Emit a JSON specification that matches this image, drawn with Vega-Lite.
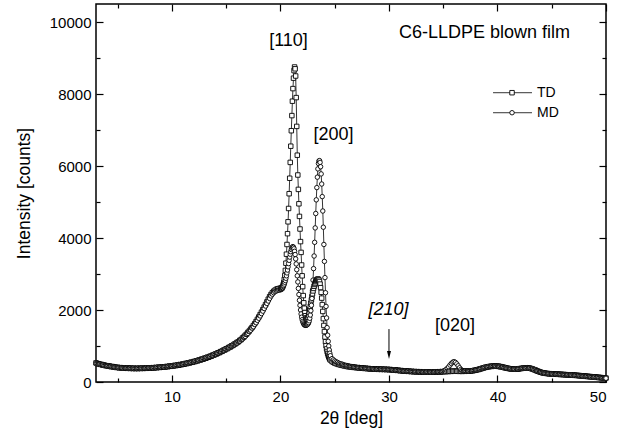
{
  "$schema": "https://vega.github.io/schema/vega-lite/v6.json",
  "width": 510,
  "height": 378,
  "autosize": "none",
  "padding": {"left": 96, "top": 4, "right": 17, "bottom": 62},
  "background": "white",
  "config": {
    "font": "Liberation Sans",
    "view": {"stroke": "black", "strokeWidth": 1.5},
    "axis": {"domain": false, "grid": false, "tickColor": "black", "tickWidth": 1.2, "labelColor": "black", "titleColor": "black", "labelFont": "Liberation Sans", "titleFont": "Liberation Sans", "labelFontSize": 15, "titleFontSize": 17.5, "titleFontWeight": "normal"}
  },
  "data": {"values": [
    {"t":3.0,"TD":530,"MD":515},{"t":3.125,"TD":512,"MD":522},{"t":3.25,"TD":505,"MD":494},{"t":3.375,"TD":490,"MD":500},
    {"t":3.5,"TD":488,"MD":474},{"t":3.625,"TD":472,"MD":481},{"t":3.75,"TD":470,"MD":458},{"t":3.875,"TD":455,"MD":465},
    {"t":4.0,"TD":452,"MD":444},{"t":4.125,"TD":446,"MD":452},{"t":4.25,"TD":440,"MD":430},{"t":4.375,"TD":428,"MD":437},
    {"t":4.5,"TD":430,"MD":418},{"t":4.625,"TD":416,"MD":424},{"t":4.75,"TD":414,"MD":412},{"t":4.875,"TD":404,"MD":414},
    {"t":5.0,"TD":406,"MD":398},{"t":5.125,"TD":396,"MD":404},{"t":5.25,"TD":400,"MD":390},{"t":5.375,"TD":390,"MD":396},
    {"t":5.5,"TD":392,"MD":384},{"t":5.625,"TD":384,"MD":391},{"t":5.75,"TD":389,"MD":380},{"t":5.875,"TD":380,"MD":388},
    {"t":6.0,"TD":386,"MD":378},{"t":6.125,"TD":378,"MD":385},{"t":6.25,"TD":383,"MD":374},{"t":6.375,"TD":375,"MD":382},
    {"t":6.5,"TD":382,"MD":372},{"t":6.625,"TD":374,"MD":380},{"t":6.75,"TD":380,"MD":373},{"t":6.875,"TD":373,"MD":382},
    {"t":7.0,"TD":382,"MD":374},{"t":7.125,"TD":376,"MD":384},{"t":7.25,"TD":385,"MD":376},{"t":7.375,"TD":377,"MD":387},
    {"t":7.5,"TD":386,"MD":379},{"t":7.625,"TD":380,"MD":390},{"t":7.75,"TD":391,"MD":383},{"t":7.875,"TD":384,"MD":394},
    {"t":8.0,"TD":393,"MD":386},{"t":8.125,"TD":388,"MD":398},{"t":8.25,"TD":398,"MD":391},{"t":8.375,"TD":393,"MD":404},
    {"t":8.5,"TD":404,"MD":396},{"t":8.625,"TD":398,"MD":410},{"t":8.75,"TD":409,"MD":402},{"t":8.875,"TD":404,"MD":416},
    {"t":9.0,"TD":415,"MD":408},{"t":9.125,"TD":410,"MD":423},{"t":9.25,"TD":422,"MD":415},{"t":9.375,"TD":418,"MD":431},
    {"t":9.5,"TD":430,"MD":424},{"t":9.625,"TD":426,"MD":440},{"t":9.75,"TD":439,"MD":432},{"t":9.875,"TD":435,"MD":450},
    {"t":10.0,"TD":449,"MD":441},{"t":10.125,"TD":445,"MD":461},{"t":10.25,"TD":460,"MD":452},{"t":10.375,"TD":456,"MD":472},
    {"t":10.5,"TD":471,"MD":463},{"t":10.625,"TD":468,"MD":485},{"t":10.75,"TD":484,"MD":476},{"t":10.875,"TD":481,"MD":499},
    {"t":11.0,"TD":498,"MD":490},{"t":11.125,"TD":496,"MD":514},{"t":11.25,"TD":514,"MD":505},{"t":11.375,"TD":512,"MD":531},
    {"t":11.5,"TD":530,"MD":521},{"t":11.625,"TD":529,"MD":548},{"t":11.75,"TD":548,"MD":539},{"t":11.875,"TD":547,"MD":567},
    {"t":12.0,"TD":567,"MD":558},{"t":12.125,"TD":567,"MD":588},{"t":12.25,"TD":588,"MD":578},{"t":12.375,"TD":588,"MD":610},
    {"t":12.5,"TD":610,"MD":600},{"t":12.625,"TD":611,"MD":633},{"t":12.75,"TD":634,"MD":622},{"t":12.875,"TD":634,"MD":658},
    {"t":13.0,"TD":658,"MD":646},{"t":13.125,"TD":660,"MD":684},{"t":13.25,"TD":685,"MD":672},{"t":13.375,"TD":687,"MD":712},
    {"t":13.5,"TD":712,"MD":700},{"t":13.625,"TD":716,"MD":742},{"t":13.75,"TD":743,"MD":730},{"t":13.875,"TD":748,"MD":774},
    {"t":14.0,"TD":775,"MD":762},{"t":14.125,"TD":781,"MD":807},{"t":14.25,"TD":810,"MD":796},{"t":14.375,"TD":816,"MD":842},
    {"t":14.5,"TD":845,"MD":831},{"t":14.625,"TD":852,"MD":878},{"t":14.75,"TD":882,"MD":867},{"t":14.875,"TD":890,"MD":916},
    {"t":15.0,"TD":921,"MD":906},{"t":15.125,"TD":930,"MD":956},{"t":15.25,"TD":962,"MD":946},{"t":15.375,"TD":972,"MD":998},
    {"t":15.5,"TD":1005,"MD":990},{"t":15.625,"TD":1016,"MD":1040},{"t":15.75,"TD":1052,"MD":1034},{"t":15.875,"TD":1066,"MD":1086},
    {"t":16.0,"TD":1100,"MD":1080},{"t":16.125,"TD":1118,"MD":1132},{"t":16.25,"TD":1156,"MD":1136},{"t":16.375,"TD":1178,"MD":1190},
    {"t":16.5,"TD":1222,"MD":1198},{"t":16.625,"TD":1248,"MD":1256},{"t":16.75,"TD":1296,"MD":1268},{"t":16.875,"TD":1328,"MD":1330},
    {"t":17.0,"TD":1378,"MD":1350},{"t":17.125,"TD":1416,"MD":1412},{"t":17.25,"TD":1468,"MD":1438},{"t":17.375,"TD":1512,"MD":1500},
    {"t":17.5,"TD":1566,"MD":1534},{"t":17.625,"TD":1620,"MD":1598},{"t":17.75,"TD":1680,"MD":1646},{"t":17.875,"TD":1742,"MD":1712},
    {"t":18.0,"TD":1806,"MD":1770},{"t":18.125,"TD":1872,"MD":1836},{"t":18.25,"TD":1940,"MD":1900},{"t":18.375,"TD":2010,"MD":1968},
    {"t":18.5,"TD":2080,"MD":2040},{"t":18.625,"TD":2150,"MD":2110},{"t":18.75,"TD":2225,"MD":2180},{"t":18.875,"TD":2300,"MD":2250},
    {"t":19.0,"TD":2370,"MD":2320},{"t":19.125,"TD":2430,"MD":2390},{"t":19.25,"TD":2480,"MD":2440},{"t":19.375,"TD":2520,"MD":2480},
    {"t":19.5,"TD":2550,"MD":2510},{"t":19.625,"TD":2575,"MD":2530},{"t":19.75,"TD":2590,"MD":2545},{"t":19.875,"TD":2598,"MD":2555},
    {"t":20.0,"TD":2600,"MD":2560},{"t":20.05,"TD":2610,"MD":2570},{"t":20.1,"TD":2600,"MD":2580},{"t":20.15,"TD":2620,"MD":2600},
    {"t":20.2,"TD":2650,"MD":2620},{"t":20.25,"TD":2700,"MD":2650},{"t":20.3,"TD":2760,"MD":2680},{"t":20.35,"TD":2850,"MD":2720},
    {"t":20.4,"TD":2960,"MD":2770},{"t":20.45,"TD":3100,"MD":2820},{"t":20.5,"TD":3300,"MD":2880},{"t":20.55,"TD":3550,"MD":2950},
    {"t":20.6,"TD":3820,"MD":3030},{"t":20.65,"TD":4120,"MD":3110},{"t":20.7,"TD":4450,"MD":3200},{"t":20.75,"TD":4820,"MD":3290},
    {"t":20.8,"TD":5230,"MD":3380},{"t":20.85,"TD":5660,"MD":3470},{"t":20.9,"TD":6100,"MD":3550},{"t":20.95,"TD":6550,"MD":3620},
    {"t":21.0,"TD":6980,"MD":3680},{"t":21.05,"TD":7400,"MD":3720},{"t":21.1,"TD":7800,"MD":3750},{"t":21.15,"TD":8150,"MD":3760},
    {"t":21.2,"TD":8440,"MD":3740},{"t":21.25,"TD":8650,"MD":3700},{"t":21.3,"TD":8750,"MD":3630},{"t":21.35,"TD":8700,"MD":3540},
    {"t":21.4,"TD":8500,"MD":3420},{"t":21.45,"TD":7900,"MD":3280},{"t":21.5,"TD":7100,"MD":3120},{"t":21.55,"TD":6300,"MD":2950},
    {"t":21.6,"TD":5750,"MD":2780},{"t":21.65,"TD":5350,"MD":2600},{"t":21.7,"TD":4950,"MD":2430},{"t":21.75,"TD":4600,"MD":2270},
    {"t":21.8,"TD":4250,"MD":2130},{"t":21.85,"TD":3900,"MD":2000},{"t":21.9,"TD":3600,"MD":1890},{"t":21.95,"TD":3250,"MD":1800},
    {"t":22.0,"TD":2950,"MD":1730},{"t":22.05,"TD":2650,"MD":1680},{"t":22.1,"TD":2400,"MD":1640},{"t":22.15,"TD":2200,"MD":1610},
    {"t":22.2,"TD":2050,"MD":1590},{"t":22.25,"TD":1930,"MD":1580},{"t":22.3,"TD":1840,"MD":1575},{"t":22.35,"TD":1780,"MD":1575},
    {"t":22.4,"TD":1750,"MD":1580},{"t":22.45,"TD":1740,"MD":1590},{"t":22.5,"TD":1760,"MD":1600},{"t":22.55,"TD":1800,"MD":1620},
    {"t":22.6,"TD":1860,"MD":1650},{"t":22.65,"TD":1930,"MD":1700},{"t":22.7,"TD":2010,"MD":1770},{"t":22.75,"TD":2100,"MD":1860},
    {"t":22.8,"TD":2190,"MD":1980},{"t":22.85,"TD":2280,"MD":2130},{"t":22.9,"TD":2370,"MD":2320},{"t":22.95,"TD":2450,"MD":2550},
    {"t":23.0,"TD":2530,"MD":2830},{"t":23.05,"TD":2600,"MD":3150},{"t":23.1,"TD":2660,"MD":3500},{"t":23.15,"TD":2710,"MD":3880},
    {"t":23.2,"TD":2750,"MD":4280},{"t":23.25,"TD":2790,"MD":4680},{"t":23.3,"TD":2820,"MD":5060},{"t":23.35,"TD":2840,"MD":5400},
    {"t":23.4,"TD":2850,"MD":5690},{"t":23.45,"TD":2860,"MD":5920},{"t":23.5,"TD":2850,"MD":6070},{"t":23.55,"TD":2830,"MD":6140},
    {"t":23.6,"TD":2790,"MD":6150},{"t":23.65,"TD":2720,"MD":6100},{"t":23.7,"TD":2620,"MD":5980},{"t":23.75,"TD":2490,"MD":5780},
    {"t":23.8,"TD":2330,"MD":5500},{"t":23.85,"TD":2150,"MD":5150},{"t":23.9,"TD":1960,"MD":4750},{"t":23.95,"TD":1760,"MD":4300},
    {"t":24.0,"TD":1570,"MD":3820},{"t":24.05,"TD":1400,"MD":3350},{"t":24.1,"TD":1250,"MD":2900},{"t":24.15,"TD":1120,"MD":2480},
    {"t":24.2,"TD":1010,"MD":2100},{"t":24.25,"TD":920,"MD":1780},{"t":24.3,"TD":850,"MD":1510},{"t":24.35,"TD":790,"MD":1300},
    {"t":24.4,"TD":740,"MD":1130},{"t":24.45,"TD":700,"MD":1000},{"t":24.5,"TD":665,"MD":890},{"t":24.55,"TD":635,"MD":800},
    {"t":24.6,"TD":610,"MD":730},
    {"t":24.75,"TD":570,"MD":650},{"t":24.875,"TD":548,"MD":615},{"t":25.0,"TD":525,"MD":585},{"t":25.125,"TD":512,"MD":562},
    {"t":25.25,"TD":500,"MD":545},{"t":25.375,"TD":486,"MD":522},{"t":25.5,"TD":478,"MD":508},{"t":25.625,"TD":465,"MD":500},
    {"t":25.75,"TD":458,"MD":488},{"t":25.875,"TD":448,"MD":470},{"t":26.0,"TD":445,"MD":462},{"t":26.125,"TD":432,"MD":458},
    {"t":26.25,"TD":426,"MD":448},{"t":26.375,"TD":424,"MD":436},{"t":26.5,"TD":415,"MD":432},{"t":26.625,"TD":414,"MD":424},
    {"t":26.75,"TD":405,"MD":420},{"t":26.875,"TD":406,"MD":410},{"t":27.0,"TD":398,"MD":408},{"t":27.125,"TD":400,"MD":398},
    {"t":27.25,"TD":390,"MD":403},{"t":27.375,"TD":392,"MD":392},{"t":27.5,"TD":384,"MD":392},{"t":27.625,"TD":386,"MD":382},
    {"t":27.75,"TD":376,"MD":387},{"t":27.875,"TD":380,"MD":376},{"t":28.0,"TD":372,"MD":378},{"t":28.125,"TD":374,"MD":368},
    {"t":28.25,"TD":364,"MD":374},{"t":28.375,"TD":368,"MD":362},{"t":28.5,"TD":360,"MD":368},{"t":28.625,"TD":364,"MD":358},
    {"t":28.75,"TD":355,"MD":364},{"t":28.875,"TD":360,"MD":354},{"t":29.0,"TD":352,"MD":362},{"t":29.125,"TD":358,"MD":350},
    {"t":29.25,"TD":350,"MD":358},{"t":29.375,"TD":356,"MD":347},{"t":29.5,"TD":348,"MD":355},{"t":29.625,"TD":354,"MD":345},
    {"t":29.75,"TD":346,"MD":352},{"t":29.875,"TD":351,"MD":342},{"t":30.0,"TD":344,"MD":349},{"t":30.125,"TD":346,"MD":338},
    {"t":30.25,"TD":337,"MD":344},{"t":30.375,"TD":340,"MD":332},{"t":30.5,"TD":330,"MD":338},{"t":30.625,"TD":333,"MD":324},
    {"t":30.75,"TD":322,"MD":330},{"t":30.875,"TD":326,"MD":316},{"t":31.0,"TD":315,"MD":322},{"t":31.125,"TD":318,"MD":309},
    {"t":31.25,"TD":308,"MD":315},{"t":31.375,"TD":311,"MD":302},{"t":31.5,"TD":301,"MD":308},{"t":31.625,"TD":305,"MD":296},
    {"t":31.75,"TD":296,"MD":302},{"t":31.875,"TD":300,"MD":291},{"t":32.0,"TD":291,"MD":297},{"t":32.125,"TD":295,"MD":286},
    {"t":32.25,"TD":287,"MD":293},{"t":32.375,"TD":291,"MD":282},{"t":32.5,"TD":284,"MD":290},{"t":32.625,"TD":288,"MD":279},
    {"t":32.75,"TD":281,"MD":287},{"t":32.875,"TD":286,"MD":277},{"t":33.0,"TD":279,"MD":285},{"t":33.125,"TD":284,"MD":275},
    {"t":33.25,"TD":277,"MD":283},{"t":33.375,"TD":282,"MD":274},{"t":33.5,"TD":276,"MD":282},{"t":33.625,"TD":281,"MD":273},
    {"t":33.75,"TD":275,"MD":281},{"t":33.875,"TD":281,"MD":273},{"t":34.0,"TD":275,"MD":282},{"t":34.125,"TD":282,"MD":274},
    {"t":34.25,"TD":276,"MD":284},{"t":34.375,"TD":284,"MD":276},{"t":34.5,"TD":278,"MD":287},{"t":34.625,"TD":286,"MD":279},
    {"t":34.75,"TD":281,"MD":290},{"t":34.875,"TD":289,"MD":284},{"t":35.0,"TD":285,"MD":300},{"t":35.125,"TD":292,"MD":318},
    {"t":35.25,"TD":289,"MD":345},{"t":35.375,"TD":295,"MD":380},{"t":35.5,"TD":292,"MD":420},{"t":35.625,"TD":298,"MD":470},
    {"t":35.75,"TD":295,"MD":515},{"t":35.875,"TD":301,"MD":550},{"t":36.0,"TD":298,"MD":565},{"t":36.125,"TD":302,"MD":545},
    {"t":36.25,"TD":297,"MD":505},{"t":36.375,"TD":300,"MD":450},{"t":36.5,"TD":295,"MD":395},{"t":36.625,"TD":299,"MD":350},
    {"t":36.75,"TD":294,"MD":318},{"t":36.875,"TD":300,"MD":300},{"t":37.0,"TD":297,"MD":302},{"t":37.125,"TD":303,"MD":296},
    {"t":37.25,"TD":300,"MD":306},{"t":37.375,"TD":307,"MD":302},{"t":37.5,"TD":305,"MD":312},{"t":37.625,"TD":313,"MD":308},
    {"t":37.75,"TD":314,"MD":322},{"t":37.875,"TD":324,"MD":320},{"t":38.0,"TD":328,"MD":336},{"t":38.125,"TD":340,"MD":336},
    {"t":38.25,"TD":347,"MD":356},{"t":38.375,"TD":360,"MD":356},{"t":38.5,"TD":370,"MD":380},{"t":38.625,"TD":384,"MD":378},
    {"t":38.75,"TD":394,"MD":404},{"t":38.875,"TD":406,"MD":400},{"t":39.0,"TD":416,"MD":424},{"t":39.125,"TD":422,"MD":418},
    {"t":39.25,"TD":430,"MD":436},{"t":39.375,"TD":432,"MD":428},{"t":39.5,"TD":440,"MD":444},{"t":39.625,"TD":438,"MD":432},
    {"t":39.75,"TD":444,"MD":448},{"t":39.875,"TD":438,"MD":434},{"t":40.0,"TD":442,"MD":446},{"t":40.125,"TD":432,"MD":426},
    {"t":40.25,"TD":430,"MD":436},{"t":40.375,"TD":418,"MD":412},{"t":40.5,"TD":414,"MD":420},{"t":40.625,"TD":400,"MD":396},
    {"t":40.75,"TD":394,"MD":402},{"t":40.875,"TD":382,"MD":380},{"t":41.0,"TD":378,"MD":386},{"t":41.125,"TD":368,"MD":366},
    {"t":41.25,"TD":364,"MD":372},{"t":41.375,"TD":358,"MD":358},{"t":41.5,"TD":358,"MD":364},{"t":41.625,"TD":356,"MD":354},
    {"t":41.75,"TD":360,"MD":366},{"t":41.875,"TD":362,"MD":360},{"t":42.0,"TD":370,"MD":374},{"t":42.125,"TD":372,"MD":370},
    {"t":42.25,"TD":380,"MD":384},{"t":42.375,"TD":382,"MD":378},{"t":42.5,"TD":390,"MD":392},{"t":42.625,"TD":388,"MD":384},
    {"t":42.75,"TD":394,"MD":398},{"t":42.875,"TD":386,"MD":382},{"t":43.0,"TD":384,"MD":390},{"t":43.125,"TD":370,"MD":366},
    {"t":43.25,"TD":360,"MD":368},{"t":43.375,"TD":342,"MD":338},{"t":43.5,"TD":332,"MD":340},{"t":43.625,"TD":310,"MD":306},
    {"t":43.75,"TD":298,"MD":304},{"t":43.875,"TD":282,"MD":276},{"t":44.0,"TD":270,"MD":276},{"t":44.125,"TD":258,"MD":254},
    {"t":44.25,"TD":250,"MD":256},{"t":44.375,"TD":242,"MD":238},{"t":44.5,"TD":240,"MD":244},{"t":44.625,"TD":232,"MD":230},
    {"t":44.75,"TD":232,"MD":236},{"t":44.875,"TD":226,"MD":224},{"t":45.0,"TD":228,"MD":232},{"t":45.125,"TD":220,"MD":218},
    {"t":45.25,"TD":222,"MD":226},{"t":45.375,"TD":216,"MD":213},{"t":45.5,"TD":219,"MD":222},{"t":45.625,"TD":212,"MD":209},
    {"t":45.75,"TD":215,"MD":218},{"t":45.875,"TD":207,"MD":205},{"t":46.0,"TD":211,"MD":214},{"t":46.125,"TD":203,"MD":201},
    {"t":46.25,"TD":206,"MD":209},{"t":46.375,"TD":198,"MD":196},{"t":46.5,"TD":202,"MD":205},{"t":46.625,"TD":194,"MD":191},
    {"t":46.75,"TD":197,"MD":200},{"t":46.875,"TD":189,"MD":187},{"t":47.0,"TD":193,"MD":196},{"t":47.125,"TD":184,"MD":182},
    {"t":47.25,"TD":187,"MD":190},{"t":47.375,"TD":178,"MD":176},{"t":47.5,"TD":181,"MD":184},{"t":47.625,"TD":171,"MD":169},
    {"t":47.75,"TD":174,"MD":177},{"t":47.875,"TD":164,"MD":162},{"t":48.0,"TD":167,"MD":170},{"t":48.125,"TD":157,"MD":155},
    {"t":48.25,"TD":160,"MD":163},{"t":48.375,"TD":150,"MD":148},{"t":48.5,"TD":153,"MD":156},{"t":48.625,"TD":143,"MD":141},
    {"t":48.75,"TD":146,"MD":149},{"t":48.875,"TD":136,"MD":134},{"t":49.0,"TD":139,"MD":142},{"t":49.125,"TD":129,"MD":127},
    {"t":49.25,"TD":132,"MD":135},{"t":49.375,"TD":122,"MD":120},{"t":49.5,"TD":125,"MD":128},{"t":49.625,"TD":115,"MD":113},
    {"t":49.75,"TD":118,"MD":121},{"t":49.875,"TD":108,"MD":106},{"t":50.0,"TD":110,"MD":104}
  ]},
  "resolve": {"axis": {"x": "independent", "y": "independent"}},
  "layer": [
    {
      "transform": [{"fold": ["TD", "MD"], "as": ["s", "i"]}],
      "mark": {"type": "line", "stroke": "black", "strokeWidth": 0.8},
      "encoding": {
        "x": {"field": "t", "type": "quantitative", "scale": {"domain": [3, 50], "nice": false, "zero": false},
              "axis": {"orient": "bottom", "values": [10, 20, 30, 40, 50], "tickSize": -7, "labelPadding": 14, "title": "2θ [deg]", "titlePadding": 5}},
        "y": {"field": "i", "type": "quantitative", "scale": {"domain": [0, 10500], "nice": false},
              "axis": {"orient": "left", "values": [0, 2000, 4000, 6000, 8000, 10000], "tickSize": -7, "labelPadding": 12, "format": "d", "title": "Intensity [counts]", "titlePadding": 16}},
        "detail": {"field": "s"}
      }
    },
    {
      "transform": [{"fold": ["TD", "MD"], "as": ["s", "i"]}],
      "mark": {"type": "point", "filled": true, "fill": "white", "stroke": "black", "strokeWidth": 0.9, "size": 20, "opacity": 1},
      "encoding": {
        "x": {"field": "t", "type": "quantitative", "axis": {"orient": "bottom", "values": [5, 15, 25, 35, 45], "tickSize": -4, "labels": false, "title": null}},
        "y": {"field": "i", "type": "quantitative", "axis": {"orient": "left", "values": [1000, 3000, 5000, 7000, 9000], "tickSize": -4, "labels": false, "title": null}},
        "shape": {"field": "s", "type": "nominal", "scale": {"domain": ["TD", "MD"], "range": ["square", "circle"]}, "legend": null}
      }
    },
    {
      "data": {"values": [{}]},
      "mark": {"type": "text", "fontSize": 18, "align": "center", "baseline": "middle"},
      "encoding": {
        "x": {"datum": 20.74, "type": "quantitative", "axis": {"orient": "top", "values": [10, 20, 30, 40, 50], "tickSize": -7, "labels": false, "title": null}},
        "y": {"datum": 9486, "type": "quantitative", "axis": {"orient": "right", "values": [0, 2000, 4000, 6000, 8000, 10000], "tickSize": -7, "labels": false, "title": null}},
        "text": {"value": "[110]"}
      }
    },
    {
      "data": {"values": [{}]},
      "mark": {"type": "text", "fontSize": 18, "align": "center", "baseline": "middle"},
      "encoding": {
        "x": {"datum": 24.89, "type": "quantitative", "axis": {"orient": "top", "values": [5, 15, 25, 35, 45], "tickSize": -4, "labels": false, "title": null}},
        "y": {"datum": 6875, "type": "quantitative", "axis": {"orient": "right", "values": [1000, 3000, 5000, 7000, 9000], "tickSize": -4, "labels": false, "title": null}},
        "text": {"value": "[200]"}
      }
    },
    {
      "data": {"values": [{}]},
      "mark": {"type": "text", "fontSize": 18, "align": "right", "baseline": "middle"},
      "encoding": {
        "x": {"datum": 46.68, "type": "quantitative", "axis": null},
        "y": {"datum": 9708, "type": "quantitative", "axis": null},
        "text": {"value": "C6-LLDPE blown film"}
      }
    },
    {
      "data": {"values": [{}]},
      "mark": {"type": "text", "fontSize": 18, "fontStyle": "italic", "align": "center", "baseline": "middle"},
      "encoding": {
        "x": {"datum": 29.96, "type": "quantitative", "axis": null},
        "y": {"datum": 2000, "type": "quantitative", "axis": null},
        "text": {"value": "[210]"}
      }
    },
    {
      "data": {"values": [{}]},
      "mark": {"type": "text", "fontSize": 18, "align": "center", "baseline": "middle"},
      "encoding": {
        "x": {"datum": 36.08, "type": "quantitative", "axis": null},
        "y": {"datum": 1556, "type": "quantitative", "axis": null},
        "text": {"value": "[020]"}
      }
    },
    {
      "data": {"values": [{}]},
      "mark": {"type": "rule", "stroke": "black", "strokeWidth": 1},
      "encoding": {
        "x": {"datum": 30, "type": "quantitative", "axis": null},
        "y": {"datum": 1470, "type": "quantitative", "axis": null},
        "y2": {"datum": 800}
      }
    },
    {
      "data": {"values": [{}]},
      "mark": {"type": "point", "shape": "M-0.5,-1L0.5,-1L0,1Z", "filled": true, "fill": "black", "strokeWidth": 0, "size": 64, "opacity": 1},
      "encoding": {
        "x": {"datum": 30, "type": "quantitative", "axis": null},
        "y": {"datum": 750, "type": "quantitative", "axis": null}
      }
    },
    {
      "data": {"values": [{}]},
      "mark": {"type": "rule", "stroke": "black", "strokeWidth": 0.8},
      "encoding": {
        "x": {"datum": 39.59, "type": "quantitative", "axis": null},
        "x2": {"datum": 43.18},
        "y": {"datum": 8036, "type": "quantitative", "axis": null}
      }
    },
    {
      "data": {"values": [{}]},
      "mark": {"type": "rule", "stroke": "black", "strokeWidth": 0.8},
      "encoding": {
        "x": {"datum": 39.59, "type": "quantitative", "axis": null},
        "x2": {"datum": 43.18},
        "y": {"datum": 7480, "type": "quantitative", "axis": null}
      }
    },
    {
      "data": {"values": [{}]},
      "mark": {"type": "point", "shape": "square", "filled": true, "fill": "white", "stroke": "black", "strokeWidth": 0.9, "size": 20, "opacity": 1},
      "encoding": {
        "x": {"datum": 41.34, "type": "quantitative", "axis": null},
        "y": {"datum": 8036, "type": "quantitative", "axis": null}
      }
    },
    {
      "data": {"values": [{}]},
      "mark": {"type": "point", "shape": "circle", "filled": true, "fill": "white", "stroke": "black", "strokeWidth": 0.9, "size": 20, "opacity": 1},
      "encoding": {
        "x": {"datum": 41.34, "type": "quantitative", "axis": null},
        "y": {"datum": 7480, "type": "quantitative", "axis": null}
      }
    },
    {
      "data": {"values": [{}]},
      "mark": {"type": "text", "fontSize": 14, "align": "left", "baseline": "middle"},
      "encoding": {
        "x": {"datum": 43.64, "type": "quantitative", "axis": null},
        "y": {"datum": 8036, "type": "quantitative", "axis": null},
        "text": {"value": "TD"}
      }
    },
    {
      "data": {"values": [{}]},
      "mark": {"type": "text", "fontSize": 14, "align": "left", "baseline": "middle"},
      "encoding": {
        "x": {"datum": 43.64, "type": "quantitative", "axis": null},
        "y": {"datum": 7480, "type": "quantitative", "axis": null},
        "text": {"value": "MD"}
      }
    }
  ]
}
